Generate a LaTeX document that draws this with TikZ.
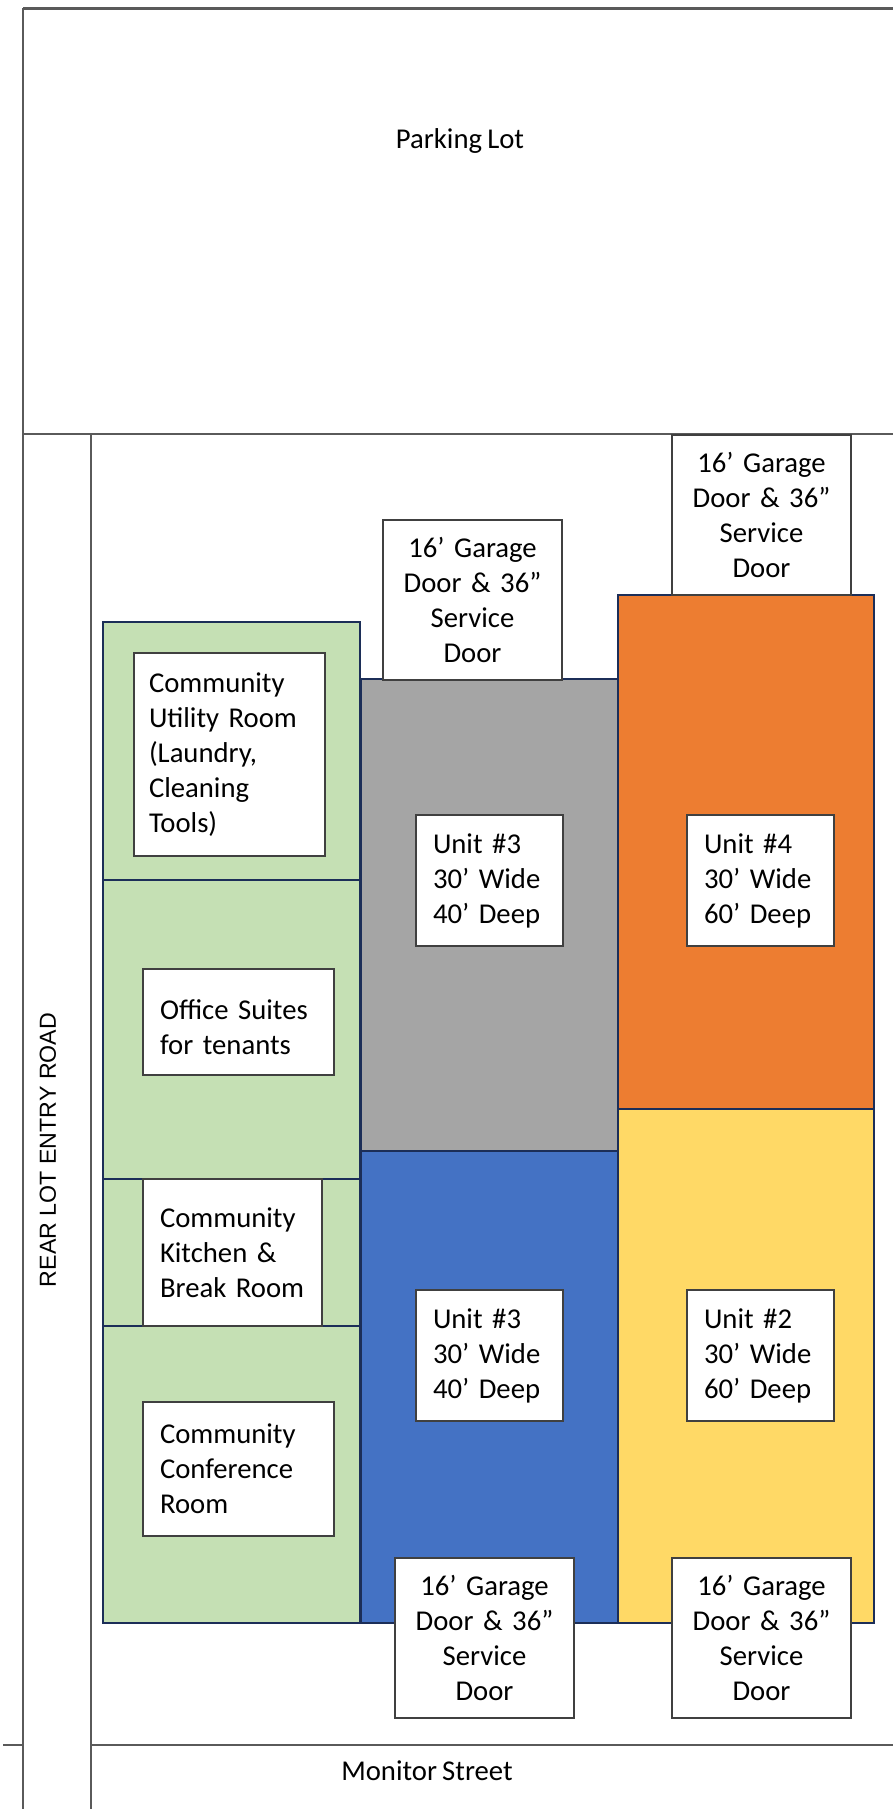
\documentclass[tikz,border=0pt]{standalone}
\usepackage{fontspec}
\setmainfont[WordSpace=0.8]{Carlito}
\newfontfamily\roadfont{Liberation Sans}
\usepackage{tikz}
\usetikzlibrary{positioning}
\definecolor{roomgreen}{HTML}{C5E0B4}
\definecolor{roomgray}{HTML}{A5A5A5}
\definecolor{roomblue}{HTML}{4472C4}
\definecolor{roomorange}{HTML}{ED7D31}
\definecolor{roomyellow}{HTML}{FFD966}
\definecolor{roomedge}{HTML}{1C2E58}
\definecolor{tagedge}{HTML}{404040}
\definecolor{lotline}{HTML}{5A5A5A}
\tikzstyle{lot line}=[draw=lotline,line width=2.2pt]
\tikzstyle{room}=[draw=roomedge,line width=2.5pt,anchor=north west,inner sep=0pt,outer sep=0pt]
\tikzstyle{tag}=[draw=tagedge,fill=white,line width=1.6pt,anchor=north west,outer sep=0pt,inner ysep=0pt,font=\fontsize{28.7}{35}\selectfont]
\tikzstyle{door tag}=[tag,align=center,inner xsep=5pt,text width=169pt,minimum height=160pt]
\tikzstyle{room tag}=[tag,align=left,inner xsep=17pt]
\tikzstyle{unit tag}=[room tag,text width=113pt,minimum height=131pt]
\newcommand{\roomnode}[2][]{
  \node [room, #1] (#2) {}
}
\newcommand{\tagnode}[3][]{
  \node [#1] (#2) {#3}
}

\begin{document}
\begin{tikzpicture}[x=1pt,y=-1pt]
        \useasboundingbox (0,0) rectangle (893,1809);

        % lot, road and street
        \draw[lot line,line width=2.7pt] (23,8.5) -- (893,8.5);
        \draw[lot line] (23,8.5) -- (23,1809);
        \draw[lot line] (23,434) -- (893,434);
        \draw[lot line] (91,434) -- (91,1809);
        \draw[lot line] (91,1745) -- (893,1745);
        \draw[lot line] (3,1745) -- (23,1745);
        \node (parking) at (460,141) {\fontsize{28.7}{35}\selectfont Parking Lot};
        \node (street) at (427,1771) {\fontsize{28.7}{35}\selectfont Monitor Street};
        \node[rotate=90] (road) at (48,1150) {\roadfont\fontsize{23.2}{28}\selectfont REAR LOT ENTRY ROAD};

        % rooms
        \roomnode[fill=roomgreen, at={(103,622)}, minimum width=257pt, minimum height=258pt]{utility};
        \roomnode[fill=roomgreen, at={(103,880)}, minimum width=257pt, minimum height=299pt]{office};
        \roomnode[fill=roomgreen, at={(103,1179)}, minimum width=257pt, minimum height=147pt]{kitchen};
        \roomnode[fill=roomgreen, at={(103,1326)}, minimum width=257pt, minimum height=297pt]{conference};
        \roomnode[fill=roomgray, at={(361,679)}, minimum width=257pt, minimum height=472pt]{unitThreeGray};
        \roomnode[fill=roomblue, at={(361,1151)}, minimum width=257pt, minimum height=472pt]{unitThreeBlue};
        \roomnode[fill=roomorange, at={(618,595)}, minimum width=256pt, minimum height=514pt]{unitFour};
        \roomnode[fill=roomyellow, at={(618,1109)}, minimum width=256pt, minimum height=514pt]{unitTwo};

        % doors
        \tagnode[door tag, at={(383,520)}]{doorThreeGray}{16’ Garage\\Door \& 36”\\Service\\Door};
        \tagnode[door tag, above=0pt of unitFour.north, xshift=15.5pt]{doorFour}{16’ Garage\\Door \& 36”\\Service\\Door};
        \tagnode[door tag, at={(395,1558)}]{doorThreeBlue}{16’ Garage\\Door \& 36”\\Service\\Door};
        \tagnode[door tag, right=98pt of doorThreeBlue]{doorTwo}{16’ Garage\\Door \& 36”\\Service\\Door};

        % room labels
        \tagnode[room tag, inner xsep=15pt, text width=161pt, minimum height=203pt, at={(134,653)}]{utilityTag}{Community\\Utility Room\\(Laundry,\\Cleaning\\Tools)};
        \tagnode[room tag, text width=157pt, minimum height=106pt, text depth=24pt, at={(143,969)}]{officeTag}{Office Suites\\for tenants};
        \tagnode[room tag, text width=145pt, minimum height=147pt, at={(143,1179)}]{kitchenTag}{Community\\Kitchen \&\\Break Room};
        \tagnode[room tag, text width=157pt, minimum height=134pt, at={(143,1402)}]{conferenceTag}{Community\\Conference\\Room};

        % unit labels
        \tagnode[unit tag, at={(416,815)}]{unitThreeGrayTag}{Unit \#3\\30’ Wide\\40’ Deep};
        \tagnode[unit tag, right=124pt of unitThreeGrayTag]{unitFourTag}{Unit \#4\\30’ Wide\\60’ Deep};
        \tagnode[unit tag, at={(416,1290)}]{unitThreeBlueTag}{Unit \#3\\30’ Wide\\40’ Deep};
        \tagnode[unit tag, right=124pt of unitThreeBlueTag]{unitTwoTag}{Unit \#2\\30’ Wide\\60’ Deep};

\end{tikzpicture}
\end{document}
